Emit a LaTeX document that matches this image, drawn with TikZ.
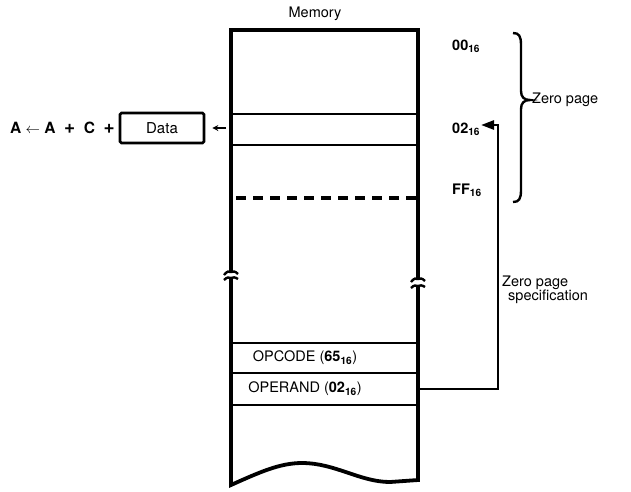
\documentclass[tikz,border=0pt]{standalone}
\usepackage{fontspec}
\setmainfont{TeX Gyre Heros}
\usetikzlibrary{arrows.meta}
\newcommand\hexsub[1]{\textsubscript{\bfseries #1}}
\begin{document}
\begin{tikzpicture}[x=1pt,y=-1pt,
  memline/.style={line width=2.6pt},
  memwall/.style={line width=3.8pt},
  lbl/.style={font=\fontsize{14.5}{17}\selectfont, inner sep=0pt},
  blbl/.style={font=\fontsize{14.5}{17}\selectfont\bfseries, inner sep=0pt},
  conn/.style={line width=2.6pt},
]
\useasboundingbox (0,0) rectangle (631,491);
% memory column
\coordinate (tl) at (231,30);
\coordinate (tr) at (418,30);
\coordinate (lb1) at (231,272);
\coordinate (lb2) at (231,278);
\coordinate (rb1) at (418,279);
\coordinate (rb2) at (418,287);
\coordinate (bl) at (231,485);
\coordinate (br) at (418,480);
\draw[memwall] (lb1) -- (tl) -- (tr) -- (rb1);
\draw[memwall] (lb2) -- (bl) .. controls (260,472) and (280,463) .. (302,463)
   .. controls (335,463) and (360,482) .. (390,482) -- (br) -- (rb2);
% break marks
\draw[line width=2.4pt] (224,275) .. controls (227,271) and (229,271) .. (231,272) .. controls (233,271) and (235,271) .. (238,274);
\draw[line width=2.4pt] (224,280) .. controls (227,277) and (229,277) .. (231,278) .. controls (233,277) and (235,277) .. (238,279);
\draw[line width=2.4pt] (411,282) .. controls (414,278) and (416,278) .. (418,279) .. controls (420,278) and (422,278) .. (425,281);
\draw[line width=2.4pt] (411,288) .. controls (414,285) and (416,285) .. (418,286) .. controls (420,285) and (422,285) .. (425,287);
% rows
\draw[memline] (231,114) -- (418,114);
\draw[memline] (231,145) -- (418,145);
\draw[line width=3.2pt, dash pattern=on 10pt off 7pt] (236,198) -- (418,198);
\draw[memline] (231,343) -- (418,343);
\draw[memline] (231,373) -- (418,373);
\draw[memline] (231,405) -- (418,405);
\node[lbl] (mem) at (315,14) {Memory};
\node[lbl] (opc) at (305,358) {OPCODE (\textbf{65}\hexsub{16})};
\node[lbl] (opr) at (305,389) {OPERAND (\textbf{02}\hexsub{16})};
\coordinate (oprr) at (418,389);
% addresses
\node[blbl, anchor=west] (a00) at (452,46) {00\hexsub{16}};
\node[blbl, anchor=west] (a02) at (452,129) {02\hexsub{16}};
\node[blbl, anchor=west] (aff) at (452,190) {FF\hexsub{16}};
% brace
\draw[line width=2.4pt] (513,33) .. controls (519,33) and (521,36) .. (521,45) -- (521,91)
  .. controls (521,97) and (524,100) .. (530,100)
  .. controls (524,100) and (521,103) .. (521,109) -- (521,190)
  .. controls (521,199) and (519,202) .. (513,202);
\node[lbl, anchor=west] (zp) at (532,100) {Zero page};
% connector
\coordinate (c1) at (498,389);
\coordinate (c2) at (498,125);
\coordinate (c3) at (481,125);
\draw[conn, -{Triangle[length=13pt,width=9pt]}] (oprr) -- (c1) -- (c2) -- (c3);
\node[lbl, anchor=west] (zps1) at (502,283) {Zero page};
\node[lbl, anchor=west] (zps2) at (508,297) {specification};
% data
\node[lbl, draw, line width=2.6pt, minimum width=84pt, minimum height=30pt, rounded corners=1.5pt, font=\fontsize{15}{17}\selectfont] (data) at (162,128) {Data};
\coordinate (datrow) at (226,128);
\draw[line width=1.8pt, -{Stealth[length=6pt,width=6pt]}] (datrow) -- ([xshift=7pt]data.east);
\node[blbl, anchor=east, font=\fontsize{15.5}{17}\selectfont\bfseries] (expr) at (115,128) {A\;$\leftarrow$\;A\;\;{\fontsize{19}{19}\selectfont +}\;\;C\;\;{\fontsize{19}{19}\selectfont +}};
\end{tikzpicture}
\end{document}
